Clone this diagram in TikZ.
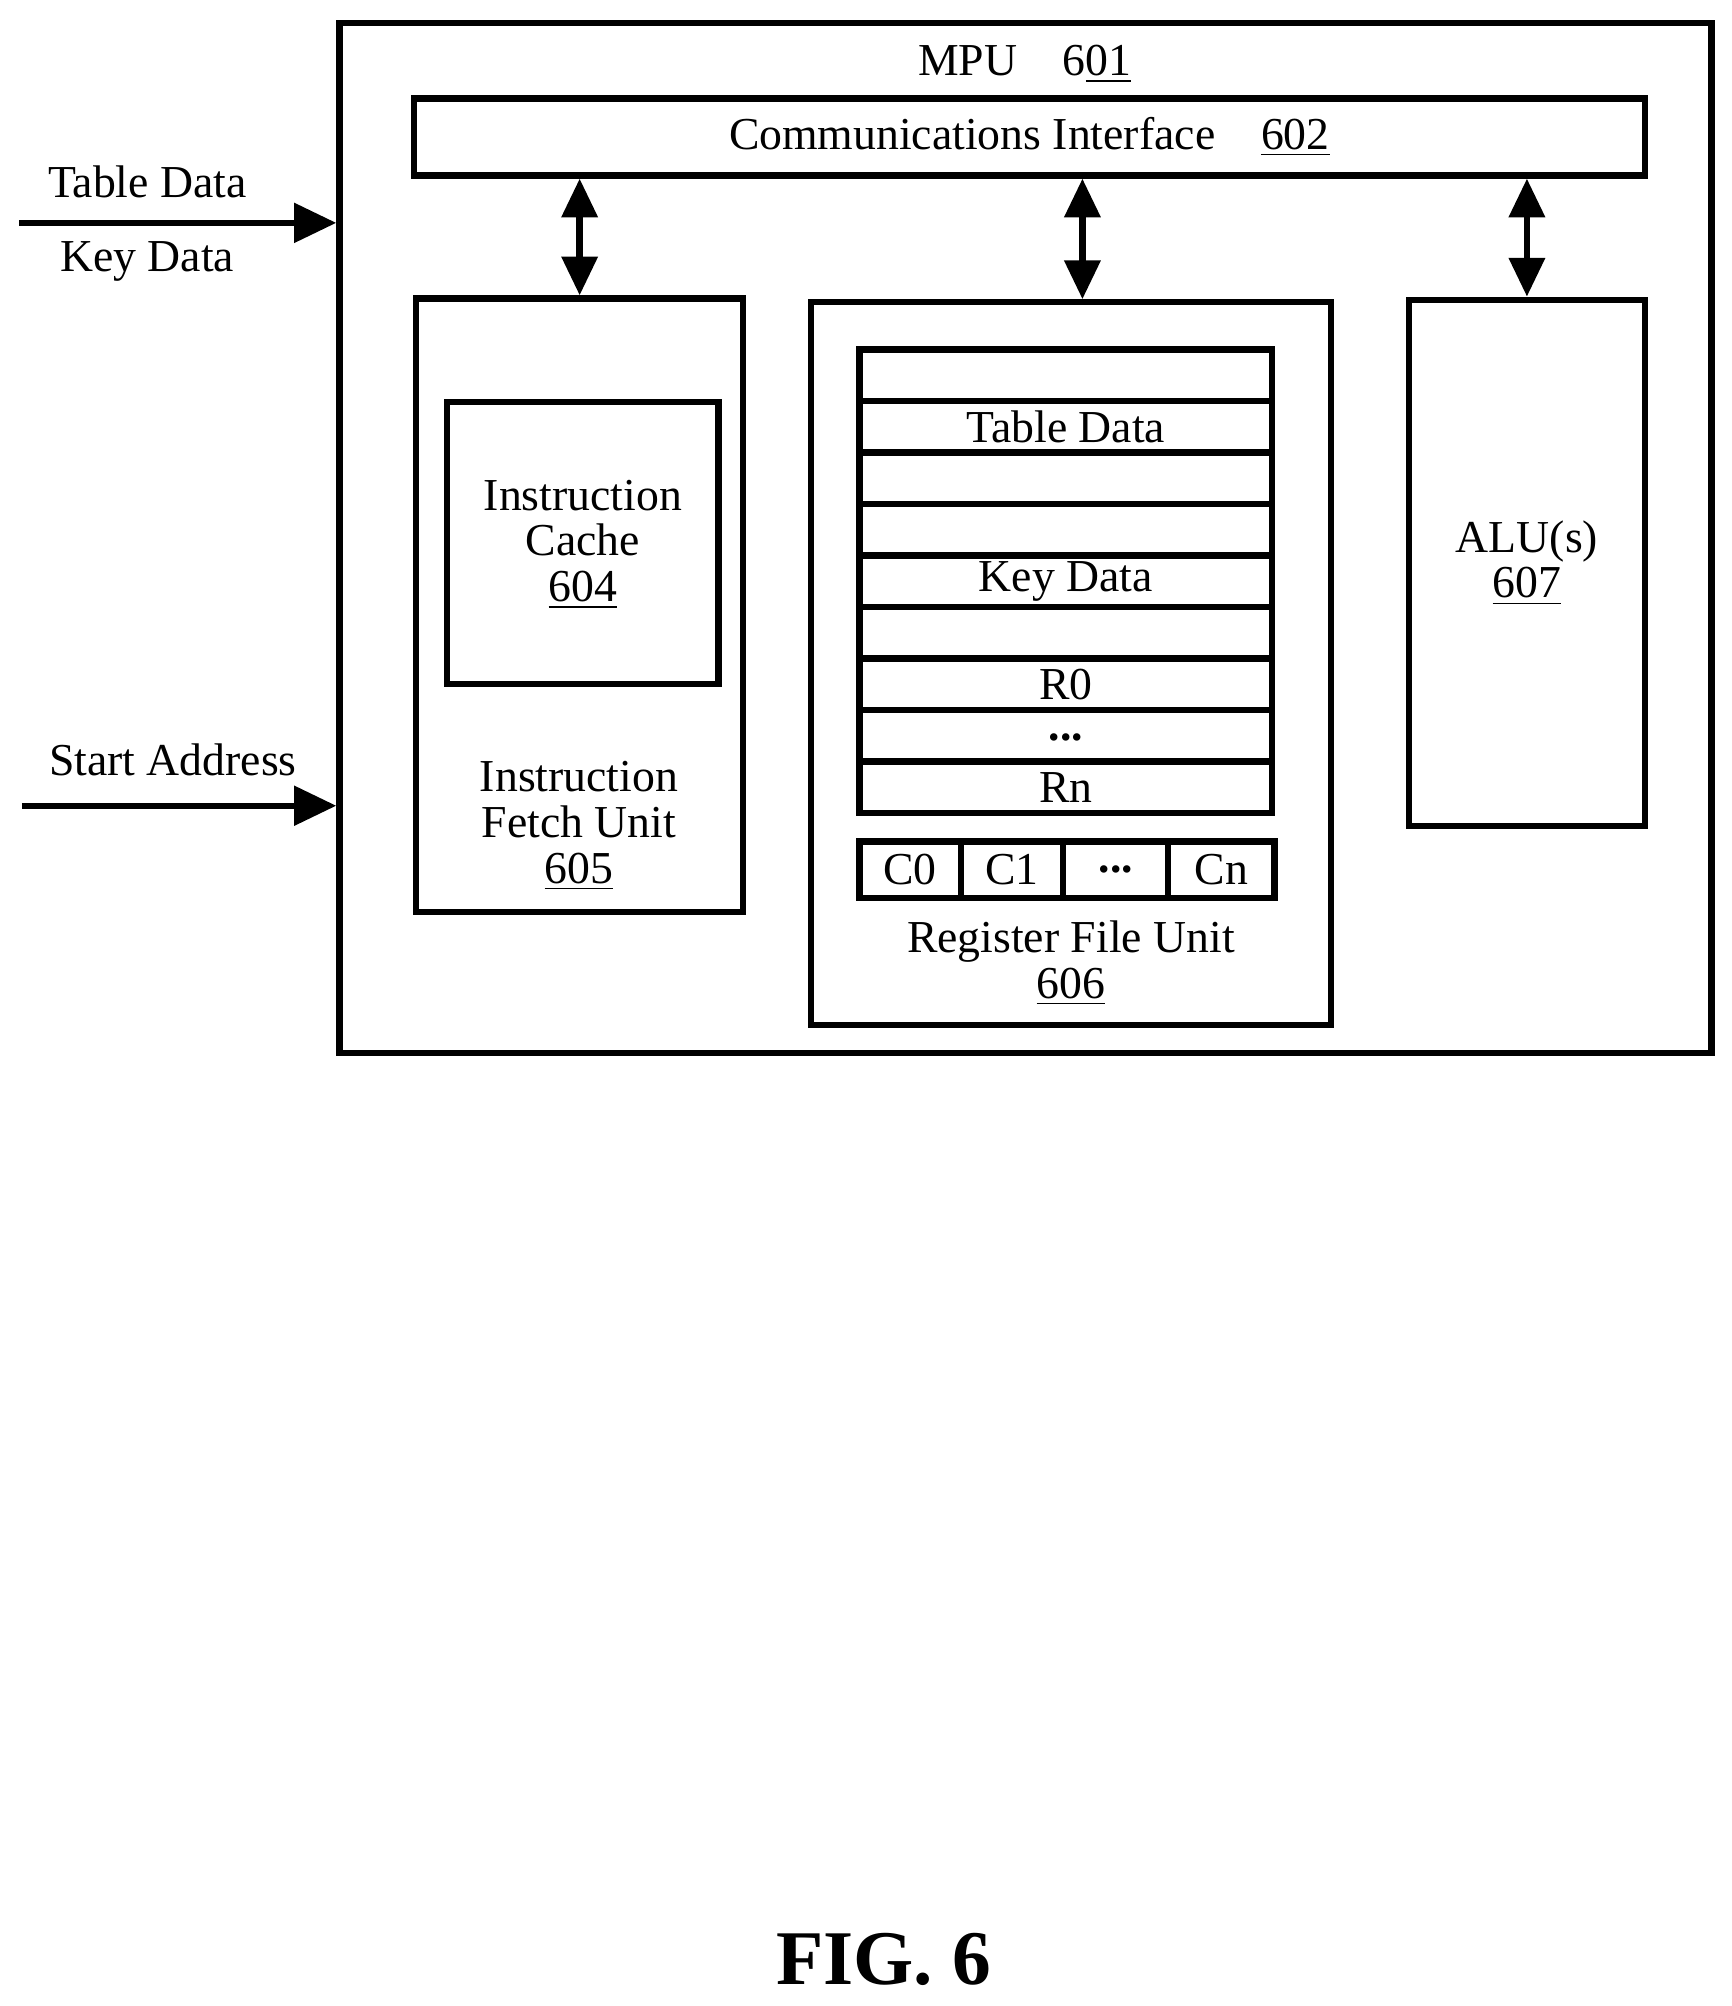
\documentclass[tikz,border=0pt]{standalone}
\usepackage{fontspec}
\setmainfont{Liberation Serif}
\usetikzlibrary{arrows.meta}
\newcommand{\rdots}{\textbf{...}}

\begin{document}
\begin{tikzpicture}[x=0.0128cm,y=-0.0128cm,
  box/.style={draw,line width=1.8pt,inner sep=0pt},
  lbl/.style={font=\fontsize{13}{13}\selectfont,align=center},
  arr/.style={line width=1.8pt,-{Triangle[length=12pt,width=11pt]}},
  dbl/.style={line width=1.8pt,{Triangle[length=11pt,width=10pt]}-{Triangle[length=11pt,width=10pt]}}]
\useasboundingbox (0,0) rectangle (1352,1566);

% The outer MPU and the communications interface
\node[box,minimum width={1071*0.0128cm},minimum height={804*0.0128cm}] (mpu) at (800.5,420) {};
\node[lbl] (mpulbl) at (800,50) {MPU\quad 6\underline{01}};
\node[box,minimum width={961*0.0128cm},minimum height={60*0.0128cm},lbl] (ci) at (803.5,107) {Communications Interface\quad\underline{602}};

% Instruction fetch unit and its cache
\node[box,minimum width={255*0.0128cm},minimum height={479*0.0128cm}] (ifu) at (452.5,472.5) {};
\node[box,minimum width={212*0.0128cm},minimum height={220*0.0128cm}] (icache) at (455,424) {};
\node[lbl] (icachelbl) at (455,425) {Instruction\\Cache\\\underline{604}};
\node[lbl] (ifulbl) at (452,645) {Instruction\\Fetch Unit\\\underline{605}};

% Register file unit with its registers
\node[box,minimum width={406*0.0128cm},minimum height={564*0.0128cm}] (rfu) at (836,518) {};
\foreach \i/\t in {0/,1/Table Data,2/,3/,4/Key Data,5/,6/R0,7/\rdots,8/Rn}
  \node[box,minimum width={322*0.0128cm},minimum height={40.2*0.0128cm},lbl] (reg\i) at (832,293+40.2*\i) {\raisebox{-3pt}{\t}};
\foreach \i/\x/\w/\t in {0/710.5/79/C0,1/790/80/C1,2/871/82/\rdots,3/953.5/83/Cn}
  \node[box,minimum width={\w*0.0128cm},minimum height={44*0.0128cm},lbl] (c\i) at (\x,679) {\t};
\node[lbl] (rfulbl) at (836,752) {Register File Unit\\\underline{606}};

% ALU
\node[box,minimum width={184*0.0128cm},minimum height={411*0.0128cm},lbl] (alu) at (1192,439.5) {ALU(s)\\\underline{607}};

% Links to the communications interface
\draw[dbl] (ci.south -| ifu.north) -- (ifu.north);
\draw[dbl] ([xshift={9*0.0128cm}]ci.south -| rfu.north) -- ([xshift={9*0.0128cm}]rfu.north);
\draw[dbl] (ci.south -| alu.north) -- (alu.north);

% Inputs from outside
\coordinate (tdin) at (15,174);
\coordinate (sain) at (17,629);
\draw[arr] (tdin) -- (tdin -| mpu.west);
\draw[arr] (sain) -- (sain -| mpu.west);
\node[lbl] (tdlbl) at (115,142) {Table Data};
\node[lbl] (kdlbl) at (115,204) {Key Data};
\node[lbl] (salbl) at (135,593) {Start Address};

\node[font=\fontsize{22}{24}\selectfont\bfseries] (fig) at (690,1530) {FIG. 6};
\end{tikzpicture}
\end{document}
